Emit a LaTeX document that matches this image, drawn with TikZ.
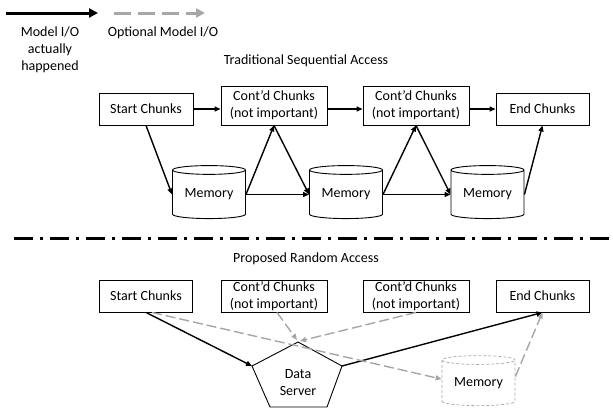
\documentclass[tikz,border=0pt]{standalone}
\usepackage{fontspec}
\setmainfont{Carlito}
\usetikzlibrary{arrows.meta,shapes.geometric}
\definecolor{optgray}{RGB}{166,166,166}
\begin{document}
\begin{tikzpicture}[x=1pt,y=-1pt,
  every node/.style={font=\fontsize{14}{17}\selectfont, text=black},
  chunkbox/.style={draw, line width=0.9pt, inner sep=0pt, align=center},
  memcyl/.style={cylinder, shape border rotate=90, aspect=0.18, draw, line width=0.9pt,
    minimum width=73pt, minimum height=53pt, inner sep=0pt},
  io/.style={line width=1.4pt, -{Triangle[length=6pt,width=5pt]}},
  optio/.style={line width=1.4pt, draw=optgray, dash pattern=on 10pt off 4pt,
    -{Triangle[length=6pt,width=5pt]}},
  legsolid/.style={line width=3pt, -{Triangle[length=9pt,width=9pt]}},
  legdash/.style={line width=3pt, draw=optgray, dash pattern=on 17pt off 7pt,
    -{Triangle[length=9pt,width=9pt]}},
  sepline/.style={line width=3pt, dash pattern=on 19pt off 7pt on 3pt off 7pt},
  pentline/.style={line width=0.9pt, line join=miter}
]
\useasboundingbox (0,0) rectangle (613,410);

% legend
\coordinate (la1) at (6,13);
\coordinate (la2) at (98,13);
\draw[legsolid] (la1) -- (la2);
\coordinate (lb1) at (114,13);
\coordinate (lb2) at (205,13);
\draw[legdash] (lb1) -- (lb2);
\node[align=center] (legA) at (50,50) {Model I/O\\actually\\happened};
\node (legB) at (163,33) {Optional Model I/O};

% titles
\node (title1) at (306,61) {Traditional Sequential Access};
\node (title2) at (306,259) {Proposed Random Access};

% top section
\node[chunkbox, minimum width=94pt, minimum height=32pt] (s1) at (146,109) {Start Chunks};
\node[chunkbox, minimum width=106pt, minimum height=39pt] (c1) at (274,105.5) {Cont’d Chunks\\(not important)};
\node[chunkbox, minimum width=106pt, minimum height=39pt] (c2) at (416,105.5) {Cont’d Chunks\\(not important)};
\node[chunkbox, minimum width=93pt, minimum height=32pt] (e1) at (542.5,109) {End Chunks};

\node[memcyl] (m1) at (209,194.5) {Memory};
\node[memcyl] (m2) at (346,194.5) {Memory};
\node[memcyl] (m3) at (487.5,194.5) {Memory};

\draw[io] (s1.east) -- (s1.east -| c1.west);
\draw[io] (c1.east |- s1.east) -- (c2.west |- s1.east);
\draw[io] (c2.east |- s1.east) -- (e1.west);
\draw[io] (s1.south) -- (m1.180);
\draw[io] (m1.0) -- (c1.south);
\draw[io] (c1.south) -- (m2.180);
\draw[io] (m1.0) -- (m2.180);
\draw[io] (m2.0) -- (c2.south);
\draw[io] (c2.south) -- (m3.180);
\draw[io] (m2.0) -- (m3.180);
\draw[io] (m3.0) -- (e1.south);

% separator
\coordinate (sepL) at (14,238);
\coordinate (sepR) at (613,238);
\draw[sepline] (sepL) -- (sepR);

% bottom section
\node[chunkbox, minimum width=93pt, minimum height=32pt] (s2) at (146,296) {Start Chunks};
\node[chunkbox, minimum width=106pt, minimum height=32pt] (c3) at (274,296) {};
\node[align=center] (c3t) at (c3) {Cont’d Chunks\\(not important)};
\node[chunkbox, minimum width=106pt, minimum height=32pt] (c4) at (416,296) {};
\node[align=center] (c4t) at (c4) {Cont’d Chunks\\(not important)};
\node[chunkbox, minimum width=93pt, minimum height=32pt] (e2) at (542.5,296) {End Chunks};

\coordinate (dsT) at (298,342);
\coordinate (dsL) at (252,366);
\coordinate (dsR) at (342,366);
\coordinate (dsBL) at (270,407);
\coordinate (dsBR) at (327,407);
\draw[pentline] (dsT) -- (dsR) -- (dsBR) -- (dsBL) -- (dsL) -- cycle;
\node[align=center] (ds) at (298,383) {Data\\Server};

\node[memcyl, draw=optgray, dash pattern=on 3pt off 2pt, line width=0.7pt,
  minimum height=50pt] (m4) at (478.5,383) {Memory};

\draw[io] (s2.south) -- (dsL);
\draw[io] (dsR) -- (e2.south);
\draw[optio] ([xshift=6pt]s2.south) -- (m4.174);
\draw[optio] ([xshift=3pt]c3.south) -- ([xshift=-1pt,yshift=2pt]dsT);
\draw[optio] (c4.south) -- ([xshift=2pt,yshift=1pt]dsT);
\draw[optio] (m4.10) -- (e2.south);
\end{tikzpicture}
\end{document}
